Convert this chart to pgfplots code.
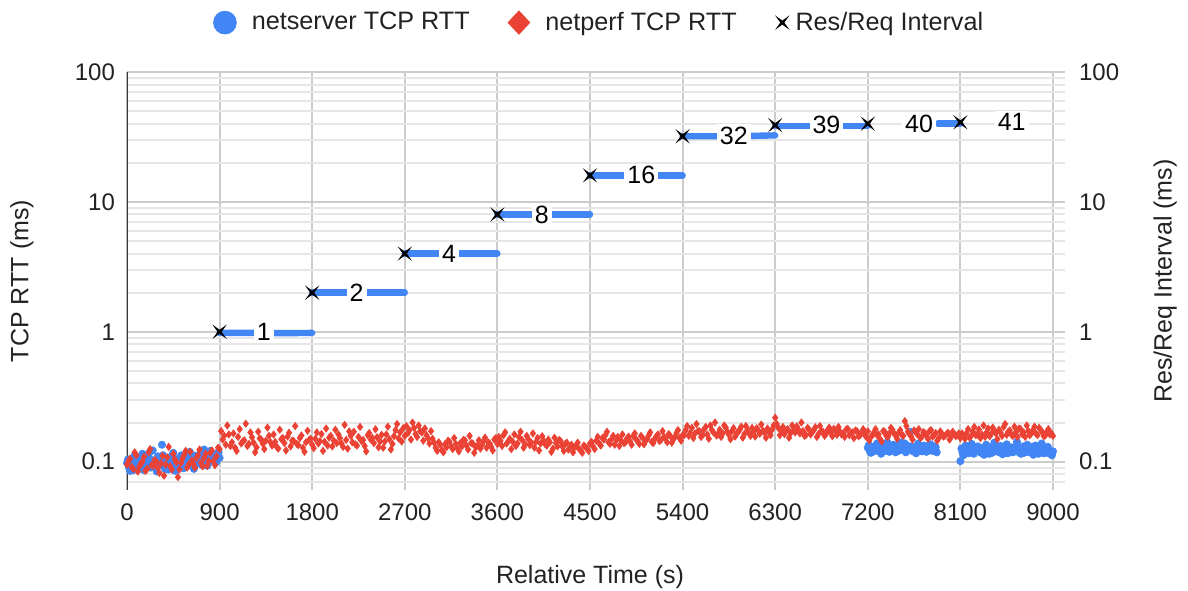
\documentclass[border=0pt]{standalone}
\usepackage{fontspec}
\setmainfont{Liberation Sans}
\usepackage{pgfplots}
\pgfplotsset{compat=1.18}
\definecolor{gblue}{HTML}{4285F4}
\definecolor{gred}{HTML}{EA4335}
\definecolor{gridmaj}{HTML}{CCCCCC}
\definecolor{gridmin}{HTML}{E6E6E6}
\definecolor{txt}{HTML}{222222}
\pgfdeclareplotmark{xstar}{%
  \pgfpathmoveto{\pgfqpoint{\pgfplotmarksize}{\pgfplotmarksize}}%
  \pgfpathlineto{\pgfqpoint{0.28\pgfplotmarksize}{0pt}}%
  \pgfpathlineto{\pgfqpoint{\pgfplotmarksize}{-\pgfplotmarksize}}%
  \pgfpathlineto{\pgfqpoint{0pt}{-0.28\pgfplotmarksize}}%
  \pgfpathlineto{\pgfqpoint{-\pgfplotmarksize}{-\pgfplotmarksize}}%
  \pgfpathlineto{\pgfqpoint{-0.28\pgfplotmarksize}{0pt}}%
  \pgfpathlineto{\pgfqpoint{-\pgfplotmarksize}{\pgfplotmarksize}}%
  \pgfpathlineto{\pgfqpoint{0pt}{0.28\pgfplotmarksize}}%
  \pgfpathclose
  \pgfusepathqfill}
\begin{document}
\begin{tikzpicture}
\useasboundingbox (-63.5pt,-50pt) rectangle (530.5pt,245pt);
\begin{axis}[
  scale only axis, width=463pt, height=209pt,
  xmin=0, xmax=9000, ymode=log, ymin=0.0605, ymax=100,
  xtick={0,900,...,9000}, ytick={0.1,1,10,100},
  minor ytick={0.07,0.08,0.09,0.2,0.3,0.4,0.5,0.6,0.7,0.8,0.9,2,3,4,5,6,7,8,9,20,30,40,50,60,70,80,90},
  log ticks with fixed point,
  /pgf/number format/assume math mode=true,
  /pgf/number format/1000 sep={},
  scaled x ticks=false,
  xmajorgrids, ymajorgrids, yminorgrids,
  major grid style={gridmaj, line width=1pt},
  minor grid style={gridmin, line width=1pt},
  axis line style={draw=none},
  major tick length=0pt, minor tick length=0pt,
  tick label style={font=\fontsize{12}{14}\selectfont, text=txt},
  xticklabel style={yshift=-3.5pt},
  yticklabel style={xshift=-2.5pt},
  xlabel={Relative Time (s)}, ylabel={TCP RTT (ms)},
  label style={font=\fontsize{12.5}{15}\selectfont, text=txt},
  xlabel style={at={(axis description cs:0.5,-0.208)}, anchor=center},
  ylabel style={at={(axis description cs:-0.1134,0.5)}, anchor=center},
  legend columns=3,
  legend cell align=left,
  legend style={at={(axis description cs:0.511,1)}, yshift=24.7pt, anchor=center, draw=none, fill=none,
    font=\fontsize{12.6}{15}\selectfont, text=txt,
    /tikz/every even column/.append style={column sep=17pt}},
]
% netserver TCP RTT (scatter)
\addplot[only marks, mark=*, mark size=1.8pt, mark options={fill=gblue, draw=none}, color=gblue,
  legend image code/.code={\fill[gblue] (0.3cm,0cm) circle (5.7pt); \path (0.3cm+11.2pt,0pt);}]
coordinates {
(0,0.098)(20,0.09)(40,0.105)(60,0.086)(80,0.1)(100,0.094)(120,0.108)(140,0.088)(160,0.112)(180,0.097)
(200,0.091)(220,0.118)(240,0.103)(260,0.095)(280,0.089)(300,0.11)(320,0.099)(340,0.135)(360,0.093)(380,0.106)
(400,0.087)(420,0.101)(440,0.113)(460,0.096)(480,0.104)(500,0.09)(520,0.109)(540,0.098)(560,0.092)(580,0.115)
(600,0.1)(620,0.107)(640,0.094)(660,0.111)(680,0.097)(700,0.105)(720,0.12)(740,0.099)(760,0.108)(780,0.093)
(800,0.116)(820,0.102)(840,0.11)(860,0.098)(880,0.113)(900,0.107)
(10,0.104)(30,0.085)(50,0.097)(70,0.11)(90,0.089)(110,0.102)(130,0.093)(150,0.115)(170,0.086)(190,0.1)
(210,0.108)(230,0.09)(250,0.122)(270,0.098)(290,0.084)(310,0.103)(330,0.095)(350,0.112)(370,0.088)(390,0.099)
(410,0.107)(430,0.092)(450,0.117)(470,0.085)(490,0.101)(510,0.096)(530,0.112)(550,0.089)(570,0.104)(590,0.094)
(610,0.119)(630,0.098)(650,0.088)(670,0.109)(690,0.101)(710,0.115)(730,0.094)(750,0.124)(770,0.103)(790,0.098)
(810,0.121)(830,0.105)(850,0.114)(870,0.1)(890,0.118)
(7200,0.128)(7220,0.12)(7240,0.124)(7260,0.131)(7280,0.122)(7300,0.127)(7320,0.119)(7340,0.125)(7360,0.133)(7380,0.121)
(7400,0.126)(7420,0.13)(7440,0.123)(7460,0.128)(7480,0.12)(7500,0.135)(7520,0.124)(7540,0.129)(7560,0.138)(7580,0.122)
(7600,0.126)(7620,0.131)(7640,0.12)(7660,0.127)(7680,0.124)(7700,0.133)(7720,0.121)(7740,0.128)(7760,0.125)(7780,0.13)
(7800,0.122)(7820,0.127)(7840,0.124)(7860,0.129)
(7210,0.134)(7230,0.117)(7250,0.128)(7270,0.121)(7290,0.138)(7310,0.124)(7330,0.115)(7350,0.13)(7370,0.126)(7390,0.141)
(7410,0.119)(7430,0.127)(7450,0.135)(7470,0.118)(7490,0.129)(7510,0.122)(7530,0.14)(7550,0.125)(7570,0.118)(7590,0.132)
(7610,0.17)(7630,0.123)(7650,0.129)(7670,0.116)(7690,0.138)(7710,0.126)(7730,0.12)(7750,0.133)(7770,0.119)(7790,0.127)
(7810,0.136)(7830,0.121)(7850,0.131)(7870,0.118)
(8100,0.101)(8120,0.118)(8140,0.125)(8160,0.121)(8180,0.116)(8200,0.127)(8220,0.122)(8240,0.119)(8260,0.13)(8280,0.124)
(8300,0.117)(8320,0.121)(8340,0.128)(8360,0.123)(8380,0.115)(8400,0.126)(8420,0.12)(8440,0.124)(8460,0.131)(8480,0.118)
(8500,0.125)(8520,0.121)(8540,0.129)(8560,0.116)(8580,0.123)(8600,0.12)(8620,0.127)(8640,0.132)(8660,0.119)(8680,0.124)
(8700,0.121)(8720,0.117)(8740,0.126)(8760,0.122)(8780,0.13)(8800,0.118)(8820,0.124)(8840,0.121)(8860,0.115)(8880,0.125)
(8900,0.12)(8920,0.128)(8940,0.117)(8960,0.123)(8980,0.114)(9000,0.12)
(8110,0.126)(8130,0.112)(8150,0.133)(8170,0.128)(8190,0.12)(8210,0.137)(8230,0.115)(8250,0.124)(8270,0.131)(8290,0.119)
(8310,0.127)(8330,0.113)(8350,0.135)(8370,0.122)(8390,0.129)(8410,0.117)(8430,0.14)(8450,0.125)(8470,0.119)(8490,0.132)
(8510,0.114)(8530,0.127)(8550,0.136)(8570,0.121)(8590,0.129)(8610,0.118)(8630,0.124)(8650,0.142)(8670,0.126)(8690,0.115)
(8710,0.131)(8730,0.122)(8750,0.135)(8770,0.118)(8790,0.126)(8810,0.113)(8830,0.133)(8850,0.127)(8870,0.12)(8890,0.138)
(8910,0.116)(8930,0.124)(8950,0.13)(8970,0.119)(8990,0.112)
};
\addlegendentry{netserver TCP RTT}
% netserver TCP RTT (plateaus)
\addplot[gblue, mark=none, line width=3.2pt, line cap=round, forget plot] coordinates {(900,0.98)(1200,0.98)(1500,0.975)(1800,0.98)};
\addplot[gblue, mark=none, line width=3.2pt, line cap=round, forget plot] coordinates {(1800,2)(2250,2)(2700,2)};
\addplot[gblue, mark=none, line width=3.2pt, line cap=round, forget plot] coordinates {(2700,4)(3150,4)(3600,4)};
\addplot[gblue, mark=none, line width=3.2pt, line cap=round, forget plot] coordinates {(3600,8)(4050,8)(4500,8)};
\addplot[gblue, mark=none, line width=3.2pt, line cap=round, forget plot] coordinates {(4500,16)(4950,16)(5400,16)};
\addplot[gblue, mark=none, line width=3.2pt, line cap=round, forget plot] coordinates {(5400,32)(5850,32)(6300,32.5)};
\addplot[gblue, mark=none, line width=3.2pt, line cap=round, forget plot] coordinates {(6300,38.5)(6750,38.5)(7200,38.5)};
\addplot[gblue, mark=none, line width=3.2pt, line cap=round, forget plot] coordinates {(7880,40)(8000,40)(8100,40)};
% netperf TCP RTT
\addplot[only marks, mark=diamond*, mark size=1.75pt, mark options={fill=gred, draw=none}, color=gred,
  legend image code/.code={\fill[gred] (0.3cm,5.8pt) -- (0.3cm+5.4pt,0pt) -- (0.3cm,-5.8pt) -- (0.3cm-5.4pt,0pt) -- cycle; \path (0.3cm+11pt,0pt);}]
coordinates {
(0,0.095)(30,0.105)(60,0.088)(90,0.112)(120,0.092)(150,0.1)(180,0.085)(210,0.118)(240,0.094)(270,0.103)
(300,0.089)(330,0.097)(360,0.078)(390,0.108)(420,0.092)(450,0.115)(480,0.099)(510,0.087)(540,0.106)(570,0.121)
(600,0.095)(630,0.102)(660,0.09)(690,0.112)(720,0.098)(750,0.107)(780,0.093)(810,0.117)(840,0.101)(870,0.11)(900,0.125)
(930,0.148)(960,0.135)(990,0.162)(1020,0.141)(1050,0.128)(1080,0.155)(1110,0.138)(1140,0.146)(1170,0.132)(1200,0.168)
(1230,0.14)(1260,0.129)(1290,0.151)(1320,0.137)(1350,0.145)(1380,0.158)(1410,0.133)(1440,0.142)(1470,0.126)(1500,0.149)
(1530,0.139)(1560,0.156)(1590,0.131)(1620,0.144)(1650,0.137)(1680,0.152)(1710,0.128)(1740,0.141)(1770,0.147)(1800,0.135)
(1830,0.15)(1860,0.138)(1890,0.163)(1920,0.142)(1950,0.133)(1980,0.158)(2010,0.145)(2040,0.139)(2070,0.152)(2100,0.13)
(2130,0.147)(2160,0.171)(2190,0.141)(2220,0.136)(2250,0.155)(2280,0.144)(2310,0.132)(2340,0.16)(2370,0.148)(2400,0.139)
(2430,0.154)(2460,0.143)(2490,0.128)(2520,0.162)(2550,0.149)(2580,0.137)(2610,0.175)(2640,0.151)(2670,0.143)(2700,0.158)
(2730,0.166)(2760,0.148)(2790,0.182)(2820,0.155)(2850,0.172)(2880,0.145)(2910,0.16)(2940,0.138)(2970,0.15)(3000,0.128)
(3030,0.141)(3060,0.123)(3090,0.136)(3120,0.145)(3150,0.131)(3180,0.152)(3210,0.127)(3240,0.139)(3270,0.147)(3300,0.133)
(3330,0.158)(3360,0.138)(3390,0.129)(3420,0.146)(3450,0.135)(3480,0.153)(3510,0.141)(3540,0.13)(3570,0.148)(3600,0.137)
(3630,0.145)(3660,0.16)(3690,0.138)(3720,0.15)(3750,0.142)(3780,0.132)(3810,0.155)(3840,0.147)(3870,0.136)(3900,0.149)
(3930,0.14)(3960,0.128)(3990,0.152)(4020,0.138)(4050,0.145)(4080,0.133)(4110,0.141)(4140,0.126)(4170,0.139)(4200,0.147)
(4230,0.131)(4260,0.137)(4290,0.124)(4320,0.135)(4350,0.129)(4380,0.14)(4410,0.122)(4440,0.133)(4470,0.127)(4500,0.138)
(4530,0.131)(4560,0.145)(4590,0.138)(4620,0.152)(4650,0.16)(4680,0.141)(4710,0.149)(4740,0.135)(4770,0.155)(4800,0.146)
(4830,0.139)(4860,0.151)(4890,0.143)(4920,0.157)(4950,0.148)(4980,0.137)(5010,0.153)(5040,0.145)(5070,0.159)(5100,0.142)
(5130,0.15)(5160,0.162)(5190,0.147)(5220,0.155)(5250,0.141)(5280,0.158)(5310,0.149)(5340,0.166)(5370,0.152)(5400,0.16)
(5430,0.175)(5460,0.158)(5490,0.182)(5520,0.165)(5550,0.172)(5580,0.155)(5610,0.178)(5640,0.162)(5670,0.19)(5700,0.168)
(5730,0.159)(5760,0.176)(5790,0.165)(5820,0.183)(5850,0.161)(5880,0.172)(5910,0.156)(5940,0.169)(5970,0.186)(6000,0.163)
(6030,0.175)(6060,0.158)(6090,0.17)(6120,0.181)(6150,0.164)(6180,0.173)(6210,0.153)(6240,0.168)(6270,0.177)(6300,0.218)
(6330,0.182)(6360,0.171)(6390,0.163)(6420,0.178)(6450,0.166)(6480,0.174)(6510,0.187)(6540,0.165)(6570,0.172)(6600,0.16)
(6630,0.176)(6660,0.169)(6690,0.184)(6720,0.163)(6750,0.171)(6780,0.158)(6810,0.175)(6840,0.167)(6870,0.179)(6900,0.161)
(6930,0.17)(6960,0.165)(6990,0.177)(7020,0.16)(7050,0.168)(7080,0.174)(7110,0.157)(7140,0.166)(7170,0.162)(7200,0.171)
(7230,0.155)(7260,0.168)(7290,0.16)(7320,0.149)(7350,0.172)(7380,0.158)(7410,0.165)(7440,0.176)(7470,0.159)(7500,0.167)
(7530,0.161)(7560,0.205)(7590,0.17)(7620,0.157)(7650,0.174)(7680,0.163)(7710,0.153)(7740,0.169)(7770,0.16)(7800,0.172)
(7830,0.156)(7860,0.166)(7890,0.152)(7920,0.164)(7950,0.158)(7980,0.167)(8010,0.155)(8040,0.163)(8070,0.16)(8100,0.152)
(8130,0.158)(8160,0.166)(8190,0.153)(8220,0.171)(8250,0.16)(8280,0.177)(8310,0.162)(8340,0.155)(8370,0.18)(8400,0.164)
(8430,0.172)(8460,0.149)(8490,0.168)(8520,0.185)(8550,0.161)(8580,0.174)(8610,0.158)(8640,0.169)(8670,0.18)(8700,0.163)
(8730,0.155)(8760,0.172)(8790,0.165)(8820,0.186)(8850,0.16)(8880,0.176)(8910,0.157)(8940,0.17)(8970,0.162)(9000,0.158)
(15,0.102)(45,0.091)(75,0.118)(105,0.084)(135,0.097)(165,0.109)(195,0.088)(225,0.125)(255,0.093)(285,0.1)
(315,0.082)(345,0.111)(375,0.095)(405,0.13)(435,0.087)(465,0.104)(495,0.076)(525,0.098)(555,0.113)(585,0.09)
(615,0.119)(645,0.096)(675,0.107)(705,0.124)(735,0.092)(765,0.115)(795,0.101)(825,0.122)(855,0.094)(885,0.128)
(915,0.172)(945,0.158)(975,0.19)(1005,0.132)(1035,0.165)(1065,0.121)(1095,0.178)(1125,0.143)(1155,0.196)(1185,0.137)
(1215,0.154)(1245,0.118)(1275,0.17)(1305,0.148)(1335,0.125)(1365,0.183)(1395,0.141)(1425,0.162)(1455,0.13)(1485,0.176)
(1515,0.152)(1545,0.122)(1575,0.167)(1605,0.145)(1635,0.188)(1665,0.134)(1695,0.159)(1725,0.119)(1755,0.173)(1785,0.15)
(1815,0.127)(1845,0.168)(1875,0.144)(1905,0.121)(1935,0.18)(1965,0.153)(1995,0.131)(2025,0.176)(2055,0.162)(2085,0.138)
(2115,0.192)(2145,0.126)(2175,0.158)(2205,0.17)(2235,0.133)(2265,0.185)(2295,0.147)(2325,0.12)(2355,0.166)(2385,0.152)
(2415,0.178)(2445,0.129)(2475,0.161)(2505,0.143)(2535,0.186)(2565,0.124)(2595,0.157)(2625,0.195)(2655,0.168)(2685,0.181)
(2715,0.188)(2745,0.175)(2775,0.2)(2805,0.163)(2835,0.19)(2865,0.168)(2895,0.18)(2925,0.152)(2955,0.172)(2985,0.14)
(3015,0.121)(3045,0.135)(3075,0.118)(3105,0.129)(3135,0.142)(3165,0.125)(3195,0.137)(3225,0.12)(3255,0.131)(3285,0.146)
(3315,0.124)(3345,0.139)(3375,0.117)(3405,0.133)(3435,0.126)(3465,0.144)(3495,0.128)(3525,0.138)(3555,0.122)(3585,0.152)
(3615,0.155)(3645,0.132)(3675,0.168)(3705,0.143)(3735,0.125)(3765,0.162)(3795,0.138)(3825,0.17)(3855,0.128)(3885,0.158)
(3915,0.134)(3945,0.165)(3975,0.142)(4005,0.122)(4035,0.157)(4065,0.136)(4095,0.148)(4125,0.119)(4155,0.153)(4185,0.131)
(4215,0.144)(4245,0.121)(4275,0.14)(4305,0.128)(4335,0.118)(4365,0.132)(4395,0.125)(4425,0.117)(4455,0.13)(4485,0.121)
(4515,0.142)(4545,0.125)(4575,0.155)(4605,0.133)(4635,0.148)(4665,0.17)(4695,0.137)(4725,0.158)(4755,0.146)(4785,0.132)
(4815,0.162)(4845,0.141)(4875,0.156)(4905,0.135)(4935,0.165)(4965,0.143)(4995,0.158)(5025,0.136)(5055,0.149)(5085,0.168)
(5115,0.139)(5145,0.157)(5175,0.144)(5205,0.172)(5235,0.151)(5265,0.163)(5295,0.14)(5325,0.155)(5355,0.175)(5385,0.145)
(5415,0.16)(5445,0.188)(5475,0.166)(5505,0.152)(5535,0.195)(5565,0.171)(5595,0.16)(5625,0.185)(5655,0.15)(5685,0.175)
(5715,0.2)(5745,0.162)(5775,0.155)(5805,0.19)(5835,0.17)(5865,0.149)(5895,0.181)(5925,0.165)(5955,0.176)(5985,0.153)
(6015,0.188)(6045,0.167)(6075,0.182)(6105,0.156)(6135,0.174)(6165,0.193)(6195,0.168)(6225,0.18)(6255,0.16)(6285,0.19)
(6315,0.195)(6345,0.16)(6375,0.185)(6405,0.172)(6435,0.153)(6465,0.19)(6495,0.168)(6525,0.177)(6555,0.2)(6585,0.158)
(6615,0.182)(6645,0.162)(6675,0.175)(6705,0.155)(6735,0.188)(6765,0.17)(6795,0.164)(6825,0.183)(6855,0.157)(6885,0.173)
(6915,0.185)(6945,0.162)(6975,0.155)(7005,0.179)(7035,0.166)(7065,0.152)(7095,0.172)(7125,0.16)(7155,0.178)(7185,0.155)
(7215,0.146)(7245,0.16)(7275,0.178)(7305,0.162)(7335,0.143)(7365,0.17)(7395,0.155)(7425,0.182)(7455,0.165)(7485,0.15)
(7515,0.175)(7545,0.158)(7575,0.188)(7605,0.163)(7635,0.148)(7665,0.169)(7695,0.178)(7725,0.155)(7755,0.166)(7785,0.15)
(7815,0.175)(7845,0.16)(7875,0.145)(7905,0.171)(7935,0.156)(7965,0.163)(7995,0.148)(8025,0.17)(8055,0.157)(8085,0.165)
(8115,0.165)(8145,0.15)(8175,0.178)(8205,0.158)(8235,0.185)(8265,0.162)(8295,0.152)(8325,0.19)(8355,0.168)(8385,0.157)
(8415,0.183)(8445,0.165)(8475,0.176)(8505,0.158)(8535,0.195)(8565,0.17)(8595,0.162)(8625,0.186)(8655,0.155)(8685,0.178)
(8715,0.168)(8745,0.19)(8775,0.16)(8805,0.175)(8835,0.164)(8865,0.182)(8895,0.168)(8925,0.159)(8955,0.178)(8985,0.165)
};
\addlegendentry{netperf TCP RTT}
% Res/Req Interval
\addplot[only marks, mark=xstar, mark size=3.6pt, mark options={fill=black, draw=none}, color=black,
  point meta=explicit symbolic, nodes near coords,
  nodes near coords style={anchor=west, xshift=17pt, fill=white, inner sep=1.5pt, font=\fontsize{12.5}{15}\selectfont, text=black},
  legend image code/.code={\fill[black] plot[mark=xstar, mark size=3.6pt] coordinates {(0.3cm,0cm)}; \path (0.3cm+4.4pt,0pt) (0.3cm-3.6pt,0pt);}]
coordinates {(900,1) [1] (1800,2) [2] (2700,4) [4] (3600,8) [8] (4500,16) [16] (5400,32) [32] (6300,39) [39] (7200,40) [40] (8100,41) [41]};
\addlegendentry{Res/Req Interval}
\draw[color=txt!90, line width=1.2pt] (rel axis cs:0,0) -- (rel axis cs:0,1);
\end{axis}
\begin{axis}[
  scale only axis, width=463pt, height=209pt,
  xmin=0, xmax=9000, ymode=log, ymin=0.0605, ymax=100,
  axis line style={draw=none},
  xtick=\empty,
  ytick={0.1,1,10,100},
  minor ytick={0.07,0.08,0.09,0.2,0.3,0.4,0.5,0.6,0.7,0.8,0.9,2,3,4,5,6,7,8,9,20,30,40,50,60,70,80,90},
  log ticks with fixed point,
  /pgf/number format/assume math mode=true,
  ytick pos=right, yticklabel pos=right,
  tick align=outside, major tick length=6pt, minor tick length=6pt,
  major tick style={gridmaj, line width=1pt},
  minor tick style={gridmin, line width=1pt},
  tick label style={font=\fontsize{12}{14}\selectfont, text=txt},
  yticklabel style={xshift=3.5pt},
  ylabel={Res/Req Interval (ms)},
  label style={font=\fontsize{12.5}{15}\selectfont, text=txt},
  ylabel style={at={(axis description cs:1.121,0.5)}, anchor=center},
]
\addplot[draw=none, mark=none, forget plot] coordinates {(0,1)};
\end{axis}
\end{tikzpicture}
\end{document}
